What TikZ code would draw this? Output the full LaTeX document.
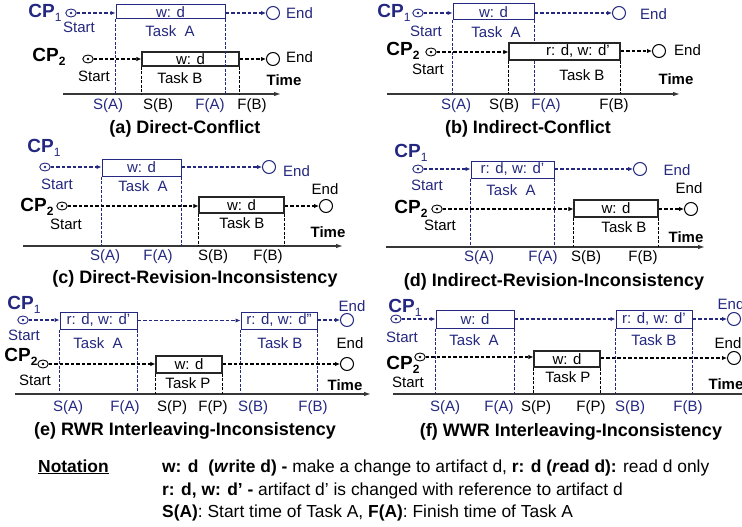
\documentclass[tikz,border=0pt]{standalone}
\usepackage{fontspec}
\setmainfont{Liberation Sans}
\usetikzlibrary{arrows.meta,fit,shapes.geometric}
\definecolor{navy}{RGB}{36,40,128}
\definecolor{axisgray}{RGB}{55,55,55}
\newcommand\cpsub[1]{\raisebox{-0.4ex}{\fontsize{12}{12}\selectfont #1}}
\begin{document}
\begin{tikzpicture}[x=1pt,y=-1pt,
  lbl/.style={font=\fontsize{15}{17}\selectfont, inner sep=0pt, text=black},
  blbl/.style={lbl, text=navy},
  captxt/.style={font=\bfseries\fontsize{18}{20}\selectfont, inner sep=0pt},
  cpl/.style={font=\bfseries\fontsize{19}{21}\selectfont, inner sep=0pt},
  timel/.style={font=\bfseries\fontsize{15}{17}\selectfont, inner sep=0pt},
  note/.style={font=\fontsize{17.4}{19}\selectfont, inner sep=0pt, anchor=base west},
  boxk/.style={draw=black!85, line width=1.2pt, inner sep=0pt, fill=white},
  boxb/.style={draw=navy, line width=1pt, inner sep=0pt, fill=white},
  startc/.style={ellipse, draw=#1, line width=0.9pt, minimum width=10.5pt, minimum height=8pt,
    inner sep=0pt, fill=white,
    path picture={\fill[#1] (path picture bounding box.center) circle (1.3pt);}},
  startc/.default=black,
  endc/.style={circle, draw=#1, line width=1pt, minimum size=13pt, inner sep=0pt, fill=white},
  endc/.default=black,
  flow/.style={dash pattern=on 3.5pt off 2pt, line width=1.25pt, -{Latex[length=5pt,width=4.5pt]}},
  guide/.style={dash pattern=on 3pt off 1.5pt, line width=1pt},
  axis/.style={line width=1.2pt, draw=axisgray, -{Latex[length=7pt,width=4.5pt]}}
]
\useasboundingbox[fill=white] (0,0) rectangle (742,527);

% ---------------- (a) Direct-Conflict ----------------
\coordinate (ax0a) at (63,94); \coordinate (ax1a) at (281,94);
\draw[axis] (ax0a) -- (ax1a);
\node[boxb, fit={(116,5)(225,19)}] (tAa) {};
\node[boxk, fit={(142,52)(239,66)}] (tBa) {};
\draw[guide, navy] (tAa.south west) -- (tAa.south west |- ax0a);
\draw[guide, navy] (tAa.south east) -- (tAa.south east |- ax0a);
\draw[guide] (tBa.south west) -- (tBa.south west |- ax0a);
\draw[guide] (tBa.south east) -- (tBa.south east |- ax0a);
\node[blbl] (wAa) at (tAa.center) {w: d};
\node[lbl] (wBa) at (tBa.center) {w: d};
\node[cpl, text=navy] (cp1a) at (45,13) {CP\cpsub{\mdseries 1}};
\node[startc=navy] (s1a) at (71,13) {};
\node[blbl] (st1a) at (79,27) {Start};
\node[blbl] (nAa) at (170,31) {Task~~A};
\node[endc=navy] (e1a) at (273,13) {};
\node[blbl, anchor=west] (en1a) at (286,13) {End};
\draw[flow, navy] (s1a.east) -- (s1a.east -| tAa.west);
\draw[flow, navy] (tAa.east |- e1a) -- (e1a.west);
\node[cpl] (cp2a) at (49,57) {CP\cpsub{2}};
\node[startc] (s2a) at (88,59) {};
\node[lbl] (st2a) at (94,76) {Start};
\node[lbl] (nBa) at (180,78) {Task B};
\node[endc] (e2a) at (273,59) {};
\node[lbl, anchor=west] (en2a) at (286,57) {End};
\draw[flow] (s2a.east) -- (s2a.east -| tBa.west);
\draw[flow] (tBa.east |- e2a) -- (e2a.west);
\node[timel] (tma) at (284,80) {Time};
\node[blbl] (lSAa) at (108,106) {S(A)};
\node[lbl] (lSBa) at (158,106) {S(B)};
\node[blbl] (lFAa) at (210,106) {F(A)};
\node[lbl] (lFBa) at (252,106) {F(B)};
\node[captxt] (capa) at (185,129) {(a) Direct-Conflict};

% ---------------- (b) Indirect-Conflict ----------------
\coordinate (ax0b) at (387,94); \coordinate (ax1b) at (680,94);
\draw[axis] (ax0b) -- (ax1b);
\node[boxb, fit={(453,4)(534,20)}] (tAb) {};
\draw[guide, navy] (tAb.south west) -- (tAb.south west |- ax0b);
\draw[guide, navy] (tAb.south east) -- (tAb.south east |- ax0b);
\node[boxk, fit={(509,43)(620,60)}] (tBb) {};
\draw[guide] (tBb.south west) -- (tBb.south west |- ax0b);
\draw[guide] (tBb.south east) -- (tBb.south east |- ax0b);
\node[blbl] (wAb) at (tAb.center) {w: d};
\node[lbl] (wBb) at (578,51.5) {r: d, w: d’};
\node[cpl, text=navy] (cp1b) at (394,13) {CP\cpsub{\mdseries 1}};
\node[startc=navy] (s1b) at (418,13) {};
\node[blbl] (st1b) at (426,31) {Start};
\node[blbl] (nAb) at (496,32) {Task~~A};
\node[endc=navy] (e1b) at (619,13) {};
\node[blbl, anchor=west] (en1b) at (640,14) {End};
\draw[flow, navy] (s1b.east) -- (s1b.east -| tAb.west);
\draw[flow, navy] (tAb.east |- e1b) -- (e1b.west);
\node[cpl] (cp2b) at (403,51) {CP\cpsub{2}};
\node[startc] (s2b) at (431,52) {};
\node[lbl] (st2b) at (428,69) {Start};
\node[lbl] (nBb) at (582,75) {Task B};
\node[endc] (e2b) at (659,51) {};
\node[lbl, anchor=west] (en2b) at (674,50) {End};
\draw[flow] (s2b.east) -- (s2b.east -| tBb.west);
\draw[flow] (tBb.east |- e2b) -- (e2b.west);
\node[timel] (tmb) at (676,79) {Time};
\node[blbl] (lSAb) at (456,106) {S(A)};
\node[lbl] (lSBb) at (504,106) {S(B)};
\node[blbl] (lFAb) at (546,106) {F(A)};
\node[lbl] (lFBb) at (614,106) {F(B)};
\node[captxt] (capb) at (528,129) {(b) Indirect-Conflict};

% ---------------- (c) Direct-Revision-Inconsistency ----------------
\coordinate (ax0c) at (23,246); \coordinate (ax1c) at (343,246);
\draw[axis] (ax0c) -- (ax1c);
\node[boxb, fit={(102,159)(181,176)}] (tAc) {};
\draw[guide, navy] (tAc.south west) -- (tAc.south west |- ax0c);
\draw[guide, navy] (tAc.south east) -- (tAc.south east |- ax0c);
\node[boxk, fit={(199,197)(284,213)}] (tBc) {};
\draw[guide] (tBc.south west) -- (tBc.south west |- ax0c);
\draw[guide] (tBc.south east) -- (tBc.south east |- ax0c);
\node[blbl] (wAc) at (tAc.center) {w: d};
\node[lbl] (wBc) at (tBc.center) {w: d};
\node[cpl, text=navy] (cp1c) at (44,148) {CP\cpsub{\mdseries 1}};
\node[startc=navy] (s1c) at (45,167) {};
\node[blbl] (st1c) at (57,184) {Start};
\node[blbl] (nAc) at (143,186) {Task~~A};
\node[endc=navy] (e1c) at (269,167) {};
\node[blbl, anchor=west] (en1c) at (283,171) {End};
\node[cpl] (cp2c) at (37,207) {CP\cpsub{2}};
\node[startc] (s2c) at (62,206) {};
\node[lbl] (st2c) at (66,224) {Start};
\node[lbl] (nBc) at (242,223) {Task B};
\node[endc] (e2c) at (326,206) {};
\node[lbl] (en2c) at (325,189) {End};
\draw[flow] (s2c.east) -- (s2c.east -| tBc.west);
\draw[flow] (tBc.east |- e2c) -- (e2c.west);
\draw[flow, navy] (s1c.east) -- (s1c.east -| tAc.west);
\draw[flow, navy] (tAc.east |- e1c) -- (e1c.west);
\node[timel] (tmc) at (328,232) {Time};
\node[blbl] (lSAc) at (105,257) {S(A)};
\node[blbl] (lFAc) at (158,257) {F(A)};
\node[lbl] (lSBc) at (213,257) {S(B)};
\node[lbl] (lFBc) at (268,257) {F(B)};
\node[captxt] (capc) at (195,279) {(c) Direct-Revision-Inconsistency};

% ---------------- (d) Indirect-Revision-Inconsistency ----------------
\coordinate (ax0d) at (386,247); \coordinate (ax1d) at (705,247);
\draw[axis] (ax0d) -- (ax1d);
\node[boxb, fit={(471,161)(554,178)}] (tAd) {};
\draw[guide, navy] (tAd.south west) -- (tAd.south west |- ax0d);
\draw[guide, navy] (tAd.south east) -- (tAd.south east |- ax0d);
\node[boxk, fit={(574,200)(658,217)}] (tBd) {};
\draw[guide] (tBd.south west) -- (tBd.south west |- ax0d);
\draw[guide] (tBd.south east) -- (tBd.south east |- ax0d);
\node[blbl] (wAd) at (tAd.center) {r: d, w: d’};
\node[lbl] (wBd) at (tBd.center) {w: d};
\node[cpl, text=navy] (cp1d) at (411,153) {CP\cpsub{\mdseries 1}};
\node[startc=navy] (s1d) at (418,169) {};
\node[blbl] (st1d) at (427,185) {Start};
\node[blbl] (nAd) at (511,190) {Task~~A};
\node[endc=navy] (e1d) at (640,169) {};
\node[blbl] (en1d) at (677,170) {End};
\node[cpl] (cp2d) at (411,209) {CP\cpsub{2}};
\node[startc] (s2d) at (437,209) {};
\node[lbl] (st2d) at (440,225) {Start};
\node[lbl] (nBd) at (624,227) {Task B};
\node[endc] (e2d) at (691,209) {};
\node[lbl] (en2d) at (689,188) {End};
\draw[flow] (s2d.east) -- (s2d.east -| tBd.west);
\draw[flow] (tBd.east |- e2d) -- (e2d.west);
\draw[flow, navy] (s1d.east) -- (s1d.east -| tAd.west);
\draw[flow, navy] (tAd.east |- e1d) -- (e1d.west);
\node[timel] (tmd) at (686,237) {Time};
\node[blbl] (lSAd) at (479,258) {S(A)};
\node[blbl] (lFAd) at (543,258) {F(A)};
\node[lbl] (lSBd) at (586,258) {S(B)};
\node[lbl] (lFBd) at (643,258) {F(B)};
\node[captxt] (capd) at (554,282) {(d) Indirect-Revision-Inconsistency};

% ---------------- (e) RWR Interleaving-Inconsistency ----------------
\coordinate (ax0e) at (15,394); \coordinate (ax1e) at (371,394);
\draw[axis] (ax0e) -- (ax1e);
\node[boxb, fit={(60,312)(137,329)}] (tAe) {};
\node[boxb, fit={(241,312)(317,329)}] (tBe) {};
\node[boxk, fit={(156,356)(222,373)}] (tPe) {};
\draw[guide, navy] (tAe.south west) -- (tAe.south west |- ax0e);
\draw[guide, navy] (tAe.south east) -- (tAe.south east |- ax0e);
\draw[guide, navy] (tBe.south west) -- (tBe.south west |- ax0e);
\draw[guide, navy] (tBe.south east) -- (tBe.south east |- ax0e);
\draw[guide] (tPe.south west) -- (tPe.south west |- ax0e);
\draw[guide] (tPe.south east) -- (tPe.south east |- ax0e);
\node[blbl] (wAe) at (tAe.center) {r: d, w: d’};
\node[blbl] (wBe) at (tBe.center) {r: d, w: d”};
\node[lbl] (wPe) at (tPe.center) {w: d};
\node[cpl, text=navy] (cp1e) at (24,305) {CP\cpsub{\mdseries 1}};
\node[startc=navy] (s1e) at (23,320) {};
\node[blbl] (st1e) at (24,335) {Start};
\node[blbl] (nAe) at (98,343) {Task~~A};
\node[blbl] (nBe) at (280,343) {Task B};
\node[endc=navy] (e1e) at (347,320) {};
\node[blbl] (en1e) at (352,306) {End};
\node[cpl] (cp2e) at (21,357) {CP\cpsub{2}};
\node[startc] (s2e) at (43,364) {};
\node[lbl] (st2e) at (35,380) {Start};
\node[lbl] (nPe) at (188,383) {Task P};
\node[endc] (e2e) at (347,364) {};
\node[lbl] (en2e) at (350,343) {End};
\draw[flow] (s2e.east) -- (s2e.east -| tPe.west);
\draw[flow] (tPe.east |- e2e) -- (e2e.west);
\draw[flow, navy] (s1e.east) -- (s1e.east -| tAe.west);
\draw[flow, navy] (tAe.east |- tBe.west) -- (tBe.west);
\draw[flow, navy] (tBe.east |- e1e) -- (e1e.west);
\node[timel] (tme) at (345,385) {Time};
\node[blbl] (lSAe) at (68,408) {S(A)};
\node[blbl] (lFAe) at (125,408) {F(A)};
\node[lbl] (lSPe) at (172,408) {S(P)};
\node[lbl] (lFPe) at (213,408) {F(P)};
\node[blbl] (lSBe) at (253,408) {S(B)};
\node[blbl] (lFBe) at (313,408) {F(B)};
\node[captxt] (cape) at (185,431) {(e) RWR Interleaving-Inconsistency};

% ---------------- (f) WWR Interleaving-Inconsistency ----------------
\coordinate (ax0f) at (393,394); \coordinate (ax1f) at (760,394);
\draw[axis] (ax0f) -- (ax1f);
\node[boxb, fit={(436,310)(514,328)}] (tAf) {};
\node[boxb, fit={(616,310)(692,328)}] (tBf) {};
\node[boxk, fit={(534,351)(600,367)}] (tPf) {};
\draw[guide, navy] (tAf.south west) -- (tAf.south west |- ax0f);
\draw[guide, navy] (tAf.south east) -- (tAf.south east |- ax0f);
\draw[guide, navy] (tBf.south west) -- (tBf.south west |- ax0f);
\draw[guide, navy] (tBf.south east) -- (tBf.south east |- ax0f);
\draw[guide] (tPf.south west) -- (tPf.south west |- ax0f);
\draw[guide] (tPf.south east) -- (tPf.south east |- ax0f);
\node[blbl] (wAf) at (tAf.center) {w: d};
\node[blbl] (wBf) at (tBf.center) {r: d, w: d’};
\node[lbl] (wPf) at (tPf.center) {w: d};
\node[cpl, text=navy] (cp1f) at (405,308) {CP\cpsub{\mdseries 1}};
\node[startc=navy] (s1f) at (396,319) {};
\node[blbl] (st1f) at (402,337) {Start};
\node[blbl] (nAf) at (474,340) {Task~~A};
\node[blbl] (nBf) at (654,340) {Task B};
\node[endc=navy] (e1f) at (734,319) {};
\node[blbl] (en1f) at (731,304) {End};
\node[cpl] (cp2f) at (403,365) {CP\cpsub{2}};
\node[startc] (s2f) at (420,357) {};
\node[lbl] (st2f) at (408,382) {Start};
\node[lbl] (nPf) at (568,377) {Task P};
\node[endc] (e2f) at (734,358) {};
\node[lbl] (en2f) at (728,343) {End};
\draw[flow] (s2f.east) -- (s2f.east -| tPf.west);
\draw[flow] (tPf.east |- e2f) -- (e2f.west);
\draw[flow, navy] (s1f.east) -- (s1f.east -| tAf.west);
\draw[flow, navy] (tAf.east |- tBf.west) -- (tBf.west);
\draw[flow, navy] (tBf.east |- e1f) -- (e1f.west);
\node[timel] (tmf) at (726,384) {Time};
\node[blbl] (lSAf) at (445,408) {S(A)};
\node[blbl] (lFAf) at (499,408) {F(A)};
\node[lbl] (lSPf) at (536,408) {S(P)};
\node[lbl] (lFPf) at (591,408) {F(P)};
\node[blbl] (lSBf) at (630,408) {S(B)};
\node[blbl] (lFBf) at (688,408) {F(B)};
\node[captxt] (capf) at (571,432) {(f) WWR Interleaving-Inconsistency};

% ---------------- notation ----------------
\node[note, font=\bfseries\fontsize{17.4}{19}\selectfont] (ntitle) at (38,472) {\underline{Notation}};
\node[note] (nline1) at (162,472) {\textbf{w: d}~~\textbf{(\textit{w}rite d) -} make a change to artifact d, \textbf{r: d (\textit{r}ead d):} read d only};
\node[note] (nline2) at (162,495) {\textbf{r: d, w: d’ -} artifact d’ is changed with reference to artifact d};
\node[note] (nline3) at (162,517) {\textbf{S(A)}: Start time of Task A, \textbf{F(A)}: Finish time of Task A};
\end{tikzpicture}
\end{document}
